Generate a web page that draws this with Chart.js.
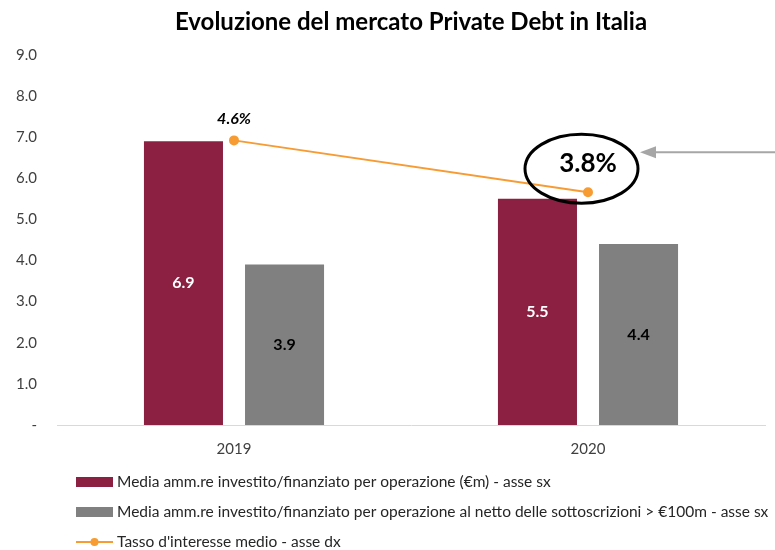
<!DOCTYPE html>
<html>
<head>
<meta charset="utf-8">
<script src="https://cdn.jsdelivr.net/npm/chart.js@4"></script>
<style>
html, body { margin: 0; padding: 0; background: #fff; }
</style>
</head>
<body>
<canvas id="chart" width="775" height="550"></canvas>
<script>
let years = ["2019", "2020"];
let mediaOperazione = [6.9, 5.5];
let mediaNetto = [3.9, 4.4];
let tassoMedio = [4.6, 3.8];

let labelOperazione = "Media amm.re investito/finanziato per operazione (€m) - asse sx";
let labelNetto = "Media amm.re investito/finanziato per operazione al netto delle sottoscrizioni > €100m - asse sx";
let labelTasso = "Tasso d'interesse medio - asse dx";

let font = "Lato";
let maroon = "#8B2042";
let grey = "#808080";
let orange = "#F79B33";

// labels on bars, line points and the highlight
let labelsPlugin = {
    id: "labels",
    afterDatasetsDraw(chart) {
        let ctx = chart.ctx;
        ctx.save();
        ctx.textAlign = "center";
        ctx.textBaseline = "middle";
        [0, 1].forEach(di => {
            chart.getDatasetMeta(di).data.forEach((bar, i) => {
                ctx.fillStyle = di === 0 ? "#fff" : "#000";
                ctx.font = "bold 16px " + font;
                ctx.fillText(chart.data.datasets[di].data[i].toFixed(1), bar.x, (bar.y + bar.base) / 2);
            });
        });

        let pts = chart.getDatasetMeta(2).data;
        ctx.fillStyle = "#000";
        ctx.font = "italic bold 16px " + font;
        ctx.fillText(tassoMedio[0].toFixed(1) + "%", pts[0].x, pts[0].y - 22);
        ctx.font = "bold 26px " + font;
        ctx.fillText(tassoMedio[1].toFixed(1) + "%", pts[1].x, pts[1].y - 29);

        // ellipse round 3.8%
        ctx.beginPath();
        ctx.ellipse(pts[1].x - 6.5, pts[1].y - 23.5, 56.5, 34.5, 0, 0, 2 * Math.PI);
        ctx.lineWidth = 3;
        ctx.strokeStyle = "#000";
        ctx.stroke();

        // arrow from the right
        let ay = pts[1].y - 40;
        let tip = pts[1].x + 52;
        ctx.strokeStyle = "#A6A6A6";
        ctx.fillStyle = "#A6A6A6";
        ctx.lineWidth = 2;
        ctx.beginPath();
        ctx.moveTo(chart.width, ay);
        ctx.lineTo(tip + 14, ay);
        ctx.stroke();
        ctx.beginPath();
        ctx.moveTo(tip, ay);
        ctx.lineTo(tip + 16, ay - 6);
        ctx.lineTo(tip + 16, ay + 6);
        ctx.closePath();
        ctx.fill();
        ctx.restore();
    }
};

// legend, one item per line
let legendPlugin = {
    id: "customLegend",
    afterDraw(chart) {
        let ctx = chart.ctx;
        let x = chart.chartArea.left + 19;
        let y0 = chart.chartArea.bottom + 57;
        ctx.save();
        ctx.textBaseline = "middle";
        ctx.textAlign = "left";
        ctx.font = "15.5px " + font;
        chart.data.datasets.forEach((ds, i) => {
            let y = y0 + i * 30;
            if (ds.type === "line") {
                ctx.strokeStyle = ds.borderColor;
                ctx.lineWidth = 2;
                ctx.beginPath();
                ctx.moveTo(x, y);
                ctx.lineTo(x + 37, y);
                ctx.stroke();
                ctx.fillStyle = ds.borderColor;
                ctx.beginPath();
                ctx.arc(x + 18.5, y, 4, 0, 2 * Math.PI);
                ctx.fill();
            } else {
                ctx.fillStyle = ds.backgroundColor;
                ctx.fillRect(x, y - 5, 37, 10);
            }
            ctx.fillStyle = "#262626";
            ctx.fillText(ds.label, x + 41, y);
        });
        ctx.restore();
    }
};

let chart = new Chart(document.getElementById("chart"), {
    type: "bar",
    data: {
        labels: years,
        datasets: [
            {
                type: "bar",
                label: labelOperazione,
                data: mediaOperazione,
                backgroundColor: maroon,
                yAxisID: "y",
                order: 2,
                barPercentage: 0.782,
                categoryPercentage: 0.571
            },
            {
                type: "bar",
                label: labelNetto,
                data: mediaNetto,
                backgroundColor: grey,
                yAxisID: "y",
                order: 2,
                barPercentage: 0.782,
                categoryPercentage: 0.571
            },
            {
                type: "line",
                label: labelTasso,
                data: tassoMedio,
                borderColor: orange,
                backgroundColor: orange,
                borderWidth: 2,
                pointRadius: 4,
                yAxisID: "y2",
                order: 0
            }
        ]
    },
    options: {
        responsive: false,
        animation: false,
        layout: { padding: { top: 8, right: 10, bottom: 77, left: 0 } },
        plugins: {
            legend: { display: false },
            tooltip: { enabled: false },
            title: {
                display: true,
                fullSize: false,
                text: "Evoluzione del mercato Private Debt in Italia",
                color: "#000",
                font: { family: font, size: 24, weight: "bold" },
                padding: { top: 0, bottom: 18 }
            }
        },
        scales: {
            x: {
                grid: { display: false, drawTicks: false },
                border: { color: "#D9D9D9", width: 1 },
                ticks: { color: "#404040", font: { family: font, size: 15 }, padding: 15 }
            },
            y: {
                min: 0,
                max: 9,
                grid: { display: false, drawTicks: false },
                border: { display: false },
                ticks: {
                    stepSize: 1,
                    padding: 20,
                    color: "#404040",
                    font: { family: font, size: 15 },
                    callback: v => v === 0 ? "-" : v.toFixed(1)
                },
                afterFit: s => { s.width = 57; }
            },
            y2: {
                display: false,
                position: "right",
                min: 0.21,
                max: 5.92
            }
        }
    },
    plugins: [labelsPlugin, legendPlugin]
});
</script>
</body>
</html>
